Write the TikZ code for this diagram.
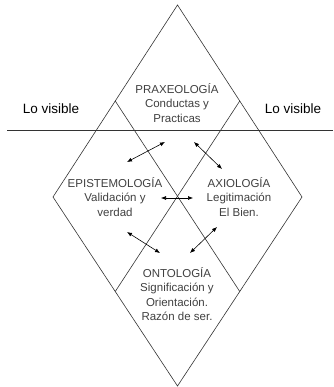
\documentclass[tikz,border=0pt]{standalone}
\usepackage{fontspec}
\setmainfont{Liberation Sans}
\usetikzlibrary{arrows.meta,calc}
\begin{document}
\begin{tikzpicture}[x=1pt,y=-1pt,
  edge/.style={line width=0.6pt,draw=black!80},
  dbl/.style={line width=0.6pt,{Latex[length=5pt,width=4pt]}-{Latex[length=5pt,width=4pt]}},
  lbl/.style={font=\fontsize{11.5}{14.5}\selectfont,text=black!75,align=center,inner sep=0pt},
  vis/.style={font=\fontsize{13.5}{16}\selectfont,text=black,inner sep=0pt}]
\useasboundingbox (0,0) rectangle (333,387);
% diamond corners
\coordinate (T) at (177.5,5);
\coordinate (L) at (53,197);
\coordinate (R) at (302,197);
\coordinate (B) at (177.5,386);
% midpoints of edges
\coordinate (ULm) at ($(T)!0.5!(L)$);
\coordinate (URm) at ($(T)!0.5!(R)$);
\coordinate (LLm) at ($(B)!0.5!(L)$);
\coordinate (LRm) at ($(B)!0.5!(R)$);
\draw[edge] (T) -- (R) -- (B) -- (L) -- cycle;
\draw[edge] (ULm) -- (LRm);
\draw[edge] (URm) -- (LLm);
% horizon line
\coordinate (H1) at (7,130);
\coordinate (H2) at (333,130);
\draw[edge] (H1) -- (H2);
% labels
\node[vis] (visL) at (51,109) {Lo visible};
\node[vis] (visR) at (293,109) {Lo visible};
\node[lbl] (prax) at (177,103) {PRAXEOLOGÍA\\Conductas y\\Practicas};
\node[lbl] (epis) at (115,197) {EPISTEMOLOGÍA\\Validación y\\verdad};
\node[lbl] (axio) at (239,197) {AXIOLOGÍA\\Legitimación\\El Bien.};
\node[lbl] (onto) at (177,294) {ONTOLOGÍA\\Significación y\\Orientación.\\Razón de ser.};
% arrows
\coordinate (a1s) at (127,162); \coordinate (a1e) at (165,142);
\coordinate (a2s) at (194,142); \coordinate (a2e) at (222,169);
\coordinate (a3s) at (161,198); \coordinate (a3e) at (193,198);
\coordinate (a4s) at (127,232); \coordinate (a4e) at (160,253);
\coordinate (a5s) at (190,253); \coordinate (a5e) at (217,227);
\draw[dbl] (a1s) -- (a1e);
\draw[dbl] (a2s) -- (a2e);
\draw[dbl] (a3s) -- (a3e);
\draw[dbl] (a4s) -- (a4e);
\draw[dbl] (a5s) -- (a5e);
\end{tikzpicture}
\end{document}
